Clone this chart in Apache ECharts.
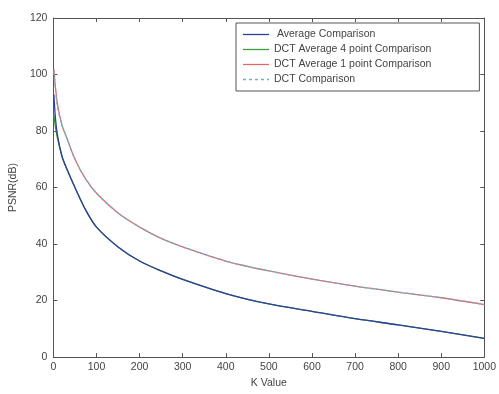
<!DOCTYPE html>
<html>
<head>
<meta charset="utf-8">
<script src="https://cdn.jsdelivr.net/npm/echarts@6/dist/echarts.min.js"></script>
<style>
  html, body { margin: 0; padding: 0; background: #fff; }
  #chart { width: 499px; height: 394px; }
</style>
</head>
<body>
<div id="chart"></div>
<script>
// K values sampled along the x axis
const kValues = [1, 5, 10, 20, 30, 50, 75, 100, 150, 200, 250, 300, 400, 500, 600, 700, 800, 900, 1000];

// PSNR (dB)
const averagePsnr = [93, 84, 78, 71, 67, 60, 52, 46, 39, 34, 30.5, 27.5, 22.5, 18.8, 16.2, 13.6, 11.4, 9.1, 6.6];
const dct4Psnr = [86, 81, 77, 71, 67, 60, 52, 46, 39, 34, 30.5, 27.5, 22.5, 18.8, 16.2, 13.6, 11.4, 9.1, 6.6];
const dct1Psnr = [102, 95, 89, 82, 78, 70, 63, 58, 51, 46, 42, 39, 34, 30.5, 27.6, 25.1, 23, 21, 18.6];
const dctPsnr = [101, 94, 88, 82, 78, 70, 63, 58, 51, 46, 42, 39, 34, 30.5, 27.6, 25.1, 23, 21, 18.6];

const seriesNames = [
  ' Average Comparison',
  'DCT Average 4 point Comparison',
  'DCT Average 1 point Comparison',
  'DCT Comparison'
];

const pairs = (ys) => kValues.map((k, i) => [k, ys[i]]);

const chart = echarts.init(document.getElementById('chart'), null, { renderer: 'canvas' });

const font = 'Liberation Sans, Arial, sans-serif';
const axisLine = { show: true, onZero: false, lineStyle: { color: '#555', width: 1 } };
const inTick = { show: true, inside: true, length: 4, lineStyle: { color: '#555' } };
const solidIcon = 'path://M0,0h26v1.3h-26z';
const dashIcon = 'path://M0,0h3v1.3h-3z M6,0h3v1.3h-3z M12,0h3v1.3h-3z M18,0h3v1.3h-3z M24,0h2v1.3h-2z';

function line(name, ys, color, z, dashed) {
  return {
    name: name,
    type: 'line',
    data: pairs(ys),
    showSymbol: false,
    symbol: 'none',
    smooth: 0.3,
    z: z,
    lineStyle: { color: color, width: 1.3, type: dashed ? [3, 3] : 'solid' },
    itemStyle: { color: color }
  };
}

chart.setOption({
  animation: false,
  backgroundColor: '#fff',
  textStyle: { fontFamily: font },
  grid: { left: 51, right: 14, top: 18, bottom: 33 },
  legend: {
    orient: 'vertical',
    left: 236,
    top: 23,
    padding: [6, 48, 6, 7],
    itemGap: 4,
    itemWidth: 26,
    itemHeight: 1.3,
    backgroundColor: '#fff',
    borderColor: '#555',
    borderWidth: 1,
    textStyle: { fontSize: 10.5, color: '#444', fontFamily: font },
    data: [
      { name: seriesNames[0], icon: solidIcon },
      { name: seriesNames[1], icon: solidIcon },
      { name: seriesNames[2], icon: solidIcon },
      { name: seriesNames[3], icon: dashIcon }
    ]
  },
  xAxis: [
    {
      type: 'value', min: 0, max: 1000, interval: 100,
      name: 'K Value', nameLocation: 'middle', nameGap: 18,
      nameTextStyle: { fontSize: 10.5, color: '#444' },
      axisLine: axisLine, axisTick: inTick,
      axisLabel: { fontSize: 10.5, color: '#444', margin: 5, formatter: (v) => String(v) },
      splitLine: { show: false }
    },
    {
      type: 'value', min: 0, max: 1000, interval: 100, position: 'top',
      axisLine: axisLine, axisTick: inTick,
      axisLabel: { show: false }, splitLine: { show: false }
    }
  ],
  yAxis: [
    {
      type: 'value', min: 0, max: 120, interval: 20,
      name: 'PSNR(dB)', nameLocation: 'middle', nameGap: 30, nameRotate: 90,
      nameTextStyle: { fontSize: 10.5, color: '#444' },
      axisLine: axisLine, axisTick: inTick,
      axisLabel: { fontSize: 10.5, color: '#444', margin: 6 },
      splitLine: { show: false }
    },
    {
      type: 'value', min: 0, max: 120, interval: 20, position: 'right',
      axisLine: axisLine, axisTick: inTick,
      axisLabel: { show: false }, splitLine: { show: false }
    }
  ],
  series: [
    line(seriesNames[0], averagePsnr, '#2f3f9c', 5, false),
    line(seriesNames[1], dct4Psnr, '#3f9f3f', 4, false),
    line(seriesNames[2], dct1Psnr, '#e06a6a', 3, false),
    line(seriesNames[3], dctPsnr, '#6ab4c4', 4, true)
  ]
});
</script>
</body>
</html>
